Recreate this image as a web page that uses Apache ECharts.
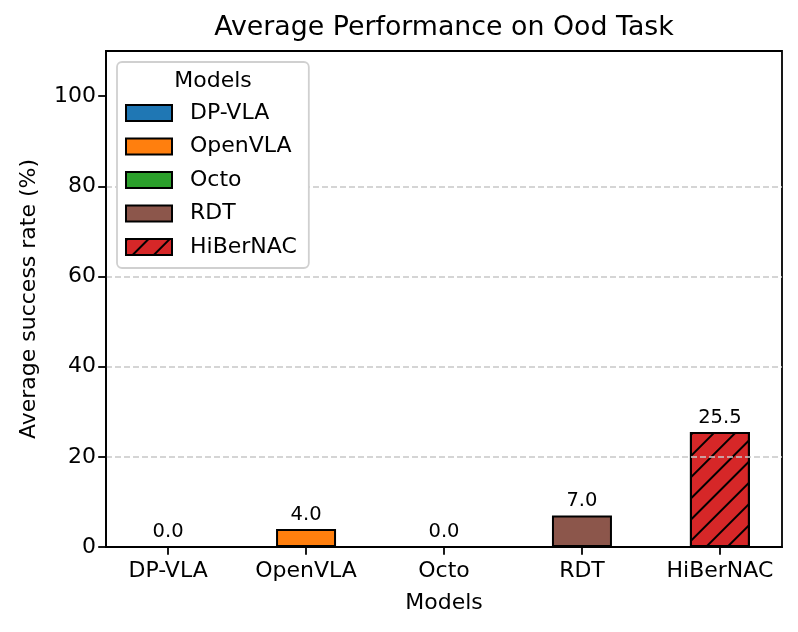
<!DOCTYPE html>
<html>
<head>
<meta charset="utf-8">
<script src="https://cdn.jsdelivr.net/npm/echarts@6/dist/echarts.min.js"></script>
<style>html,body{margin:0;padding:0;background:#fff;}#c{width:798px;height:632px;}</style>
</head>
<body>
<div id="c"></div>
<script>
var categories = ['DP-VLA', 'OpenVLA', 'Octo', 'RDT', 'HiBerNAC'];
var values = [0.0, 4.0, 0.0, 7.0, 25.5];
var colors = ['#1f77b4', '#ff7f0e', '#2ca02c', '#8c564b', '#d62728'];
var hatched = [false, false, false, false, true];
var yTicks = [0, 20, 40, 60, 80, 100];
var xTicks = [0, 1, 2, 3, 4];

var FONT = 'DejaVu Sans';
var chart = echarts.init(document.getElementById('c'), null, {renderer: 'canvas'});

var series = categories.map(function (name, i) {
  var item = {
    color: colors[i],
    borderColor: '#000',
    borderWidth: 2
  };
  if (hatched[i]) {
    item.decal = {
      symbol: 'rect',
      symbolSize: 1,
      dashArrayX: [1, 0],
      dashArrayY: [2, 13],
      rotation: -Math.PI / 4,
      color: '#000'
    };
  }
  return {
    name: name,
    type: 'bar',
    barWidth: 60,
    barGap: '-100%',
    z: 2,
    itemStyle: item,
    data: [[i, values[i]]],
    label: {
      show: true,
      position: 'top',
      distance: 4,
      fontFamily: FONT,
      fontSize: 19.5,
      color: '#000',
      formatter: function (p) { return p.value[1].toFixed(1); }
    }
  };
});

var option = {
  animation: false,
  backgroundColor: '#fff',
  aria: {enabled: false},
  title: {
    text: 'Average Performance on Ood Task',
    left: 444,
    top: 15,
    padding: 0,
    textAlign: 'center',
    textStyle: {fontFamily: FONT, fontSize: 26.8, fontWeight: 'normal', color: '#000'}
  },
  grid: {
    left: 106, right: 16, top: 51, bottom: 85,
    show: true, borderColor: '#000', borderWidth: 1.8, backgroundColor: 'transparent'
  },
  legend: {
    orient: 'vertical',
    left: 117,
    top: 62,
    padding: [40, 12, 10, 8],
    itemWidth: 46,
    itemHeight: 16,
    itemGap: 11.5,
    icon: 'rect',
    backgroundColor: '#fff',
    borderColor: '#d0d0d0',
    borderWidth: 1.8,
    borderRadius: 5,
    textStyle: {fontFamily: FONT, fontSize: 22, color: '#000', padding: [0, 0, 0, 13], lineHeight: 22},
    data: categories
  },
  graphic: [{
    type: 'text',
    z: 100,
    x: 213,
    y: 81,
    style: {text: 'Models', fontFamily: FONT, fontSize: 22, fill: '#000', align: 'center', verticalAlign: 'middle'}
  }],
  xAxis: {
    type: 'value',
    min: -0.45,
    max: 4.45,
    name: 'Models',
    nameLocation: 'middle',
    nameGap: 45,
    nameTextStyle: {fontFamily: FONT, fontSize: 22, color: '#000'},
    axisLine: {show: true, onZero: false, lineStyle: {color: '#000', width: 1.8}},
    axisTick: {show: true, length: 7.8, customValues: xTicks, lineStyle: {color: '#000', width: 1.8}},
    axisLabel: {
      customValues: xTicks,
      margin: 13,
      fontFamily: FONT, fontSize: 22, color: '#000',
      formatter: function (v) { return categories[Math.round(v)]; }
    },
    splitLine: {show: false}
  },
  yAxis: {
    type: 'value',
    min: 0,
    max: 110,
    interval: 20,
    z: 3,
    name: 'Average success rate (%)',
    nameLocation: 'middle',
    nameGap: 66,
    nameTextStyle: {fontFamily: FONT, fontSize: 22, color: '#000'},
    axisLine: {show: true, onZero: false, lineStyle: {color: '#000', width: 1.8}},
    axisTick: {show: true, length: 7.8, customValues: yTicks, lineStyle: {color: '#000', width: 1.8}},
    axisLabel: {customValues: yTicks, margin: 10, fontFamily: FONT, fontSize: 22, color: '#000'},
    splitLine: {show: true, showMinLine: false, showMaxLine: false, lineStyle: {color: '#c8c8c8', width: 1.5, type: [6, 3]}}
  },
  series: series
};
chart.setOption(option);
</script>
</body>
</html>
